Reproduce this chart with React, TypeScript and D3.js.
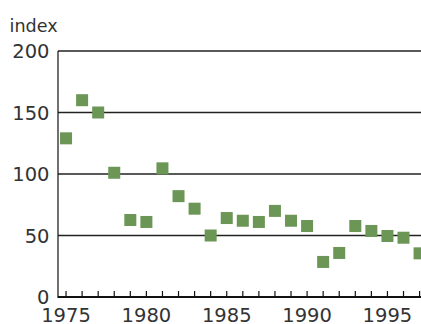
import React from "react";
import * as d3 from "d3";

const years = [1975,1976,1977,1978,1979,1980,1981,1982,1983,1984,1985,1986,1987,1988,1989,1990,1991,1992,1993,1994,1995,1996,1997];
const values = [129,160,150,101,62.6,61,104.6,82,71.8,50,64.2,62,61,70,62,57.7,28.5,35.8,57.7,53.7,49.6,48.2,35.5];
const yTicks = [0,50,100,150,200];
const xTickLabels = [1975,1980,1985,1990,1995];
const xMinorTicks = d3.range(1975, 1998);

const W = 421, H = 324;
const left = 58, bottom = 297, top = 51;

export default function App() {
  const x = d3.scaleLinear().domain([1974.5, 1997.5]).range([left, left + 23 * 16.07]);
  const y = d3.scaleLinear().domain([0, 200]).range([bottom, top]);
  const sq = 12;
  const font = "'DejaVu Sans', sans-serif";
  return (
    <svg width={W} height={H} style={{ position: "absolute", left: 0, top: 0 }}>
      <rect width={W} height={H} fill="#fff" />
      <text x={9.5} y={31.5} fontFamily={font} fontSize={17.6} fill="#333">index</text>
      {yTicks.map(t => (
        <g key={t}>
          {t > 0 && <line x1={left} x2={W + 5} y1={y(t)} y2={y(t)} stroke="#222" strokeWidth={1.4} />}
          <text x={49.5} y={y(t)} dy="0.36em" textAnchor="end" fontFamily={font} fontSize={19.5} fill="#333">{t}</text>
        </g>
      ))}
      {years.map((yr, i) => (
        <rect key={yr} x={x(yr) - sq / 2} y={y(values[i]) - sq / 2} width={sq} height={sq} fill="#6b9656" />
      ))}
      <line x1={left} x2={left} y1={top} y2={bottom + 1} stroke="#111" strokeWidth={1.2} />
      <line x1={left} x2={W + 5} y1={bottom} y2={bottom} stroke="#111" strokeWidth={2} />
      {xMinorTicks.map(t => (
        <line key={t} x1={x(t)} x2={x(t)} y1={bottom} y2={bottom - 6} stroke="#111" strokeWidth={1.2} />
      ))}
      {xTickLabels.map(t => (
        <text key={t} x={x(t)} y={322} textAnchor="middle" fontFamily={font} fontSize={19.5} fill="#333">{t}</text>
      ))}
    </svg>
  );
}
